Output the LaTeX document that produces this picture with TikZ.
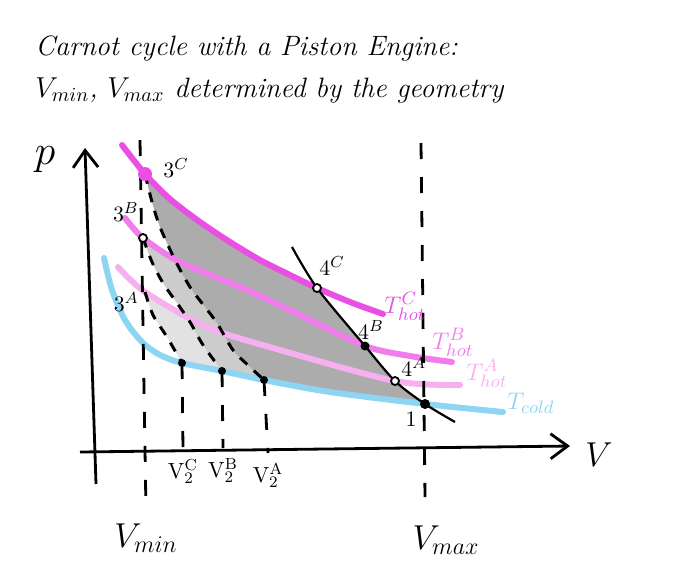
\documentclass[tikz,border=0pt]{standalone}
\usepackage{tikz}
\usetikzlibrary{positioning,arrows.meta,calc}
\definecolor{HotC}{RGB}{234,79,228}
\definecolor{HotB}{RGB}{240,125,235}
\definecolor{HotA}{RGB}{246,176,240}
\definecolor{ColdBlue}{RGB}{141,213,242}
\definecolor{CycleC}{RGB}{172,172,172}
\definecolor{CycleB}{RGB}{204,204,204}
\definecolor{CycleA}{RGB}{226,226,226}
\tikzset{
  axisline/.style={-{Straight Barb[length=3mm,width=4.4mm]},line width=1.4pt},
  isotherm/.style={line width=3pt,line cap=round},
  adiabat/.style={line width=1.1pt},
  vline/.style={line width=1.4pt,dash pattern=on 8pt off 9pt},
  adline/.style={line width=1.5pt,dash pattern=on 5pt off 4.5pt},
  hand/.style={font=\itshape\fontsize{14}{17}\selectfont,anchor=base west,inner sep=0pt},
  lbl/.style={font=\fontsize{11}{13}\selectfont,inner sep=0pt},
  biglbl/.style={font=\fontsize{17}{20}\selectfont,inner sep=0pt},
  templbl/.style={font=\fontsize{13}{15}\selectfont,inner sep=0pt},
  opendot/.style={circle,draw,line width=0.9pt,fill=white,inner sep=0pt,minimum size=4pt},
  fulldot/.style={circle,fill,inner sep=0pt,minimum size=5pt}
}
\begin{document}
\begin{tikzpicture}[x=0.5pt,y=-0.5pt]
  \useasboundingbox (0,0) rectangle (674,585);

  % title
  \node[hand] (title1) at (35,55) {Carnot cycle with a Piston Engine:};
  \node[hand] (title2) at (35,97) {$V_{min}$, $V_{max}$ determined by the geometry};

  % corner points of the cycles
  \coordinate (p3C) at (145,174);
  \coordinate (p3B) at (143,238);
  \coordinate (p3A) at (145,292);
  \coordinate (p4C) at (317,288);
  \coordinate (p4B) at (365,346);
  \coordinate (p4A) at (395,381);
  \coordinate (p1) at (425,404);
  \coordinate (p2C) at (182,363);
  \coordinate (p2B) at (222,371);
  \coordinate (p2A) at (264,380);
  \coordinate (v2C) at (183,449);
  \coordinate (v2B) at (223,448);
  \coordinate (v2A) at (268,453);

  % shaded cycles
  \fill[CycleA] plot[smooth] coordinates {(p3A) (207,327) (280,350) (p4A)}
    -- (p1) -- plot[smooth] coordinates {(p1) (330,392) (p2A) (p2B) (p2C)}
    -- plot[smooth] coordinates {(p2C) (167,337) (153,315) (p3A)} -- cycle;
  \fill[CycleB] plot[smooth] coordinates {(p3B) (180,262) (247,290) (300,315) (p4B)}
    -- plot[smooth] coordinates {(p4B) (p4A) (p1)}
    -- plot[smooth] coordinates {(p1) (330,392) (p2A) (p2B)}
    -- plot[smooth] coordinates {(p2B) (203,345) (190,322) (177,303) (163,283) (152,262) (p3B)} -- cycle;
  \fill[CycleC] plot[smooth] coordinates {(p3C) (170,199) (200,222) (230,242) (260,260) (290,275) (p4C)}
    -- plot[smooth] coordinates {(p4C) (p4B) (p4A) (p1)}
    -- plot[smooth] coordinates {(p1) (330,392) (p2A)}
    -- plot[smooth] coordinates {(p2A) (250,367) (233,350) (217,323) (205,307) (190,287) (175,260) (160,227) (152,202) (p3C)} -- cycle;

  % axes
  \draw[axisline] (96,484) -- (85,148);
  \draw[axisline] (80,452) -- (570,446);
  \node[font=\fontsize{22}{24}\selectfont] (plabel) at (45,160) {$p$};
  \node[font=\fontsize{18}{20}\selectfont] (vlabel) at (599,455) {$V$};

  % isotherms
  \draw[isotherm,ColdBlue] plot[smooth] coordinates {(104,258) (112,290) (125,320) (142,342) (160,355)
    (p2C) (p2B) (p2A) (330,392) (p1) (503,412)};
  \draw[isotherm,HotA] plot[smooth] coordinates {(118,267) (p3A) (207,327) (280,350) (p4A) (460,385)};
  \draw[isotherm,HotB] plot[smooth] coordinates {(125,218) (p3B) (180,262) (247,290) (300,315) (p4B) (410,356) (452,362)};
  \draw[isotherm,HotC] plot[smooth] coordinates {(122,145) (p3C) (170,199) (200,222) (230,242) (260,260) (290,275)
    (p4C) (350,302) (383,314)};

  % Vmin, Vmax and V2
  \draw[vline] (140,140) -- (146,512);
  \draw[vline] (421,143) -- (425,497);
  \foreach \v in {A,B,C}
    \draw[vline] (p2\v) -- (v2\v);

  % adiabats
  \draw[adline] plot[smooth] coordinates {(p3C) (152,202) (160,227) (175,260) (190,287) (205,307) (217,323) (233,350) (250,367) (p2A)};
  \draw[adline] plot[smooth] coordinates {(p3B) (152,262) (163,283) (177,303) (190,322) (203,345) (p2B)};
  \draw[adline] plot[smooth] coordinates {(p3A) (153,315) (167,337) (p2C)};
  \draw[adiabat] plot[smooth] coordinates {(292,247) (p4C) (p4B) (p4A) (p1) (455,422)};

  % points
  \node[circle,fill=HotC,inner sep=0pt,minimum size=7pt] (d3C) at (p3C) {};
  \node[opendot] (d3B) at (p3B) {};
  \node[opendot] (d4C) at (p4C) {};
  \node[fulldot,minimum size=4.5pt] (d4B) at (p4B) {};
  \node[opendot] (d4A) at (p4A) {};
  \node[fulldot] (d1) at (p1) {};
  \foreach \v in {A,B,C}
    \node[fulldot,minimum size=4pt] (d2\v) at (p2\v) {};

  % labels
  \node[lbl,right=9pt of p3C,yshift=3pt] (l3C) {$3^C$};
  \node[lbl,above left=8pt and 2pt of p3B] (l3B) {$3^B$};
  \node[lbl,left=3pt of p3A,yshift=-5pt] (l3A) {$3^A$};
  \node[lbl,above right=6pt and 1pt of p4C] (l4C) {$4^C$};
  \node[lbl,above=3pt of p4B,xshift=3pt] (l4B) {$4^B$};
  \node[lbl,above right=2pt and 3pt of p4A] (l4A) {$4^A$};
  \node[lbl,below left=4pt and 4pt of p1] (l1) {$1$};
  \foreach \v in {A,B,C}
    \node[lbl,below=5pt of v2\v] (lv2\v) {$\mathrm{V}_2^{\mathrm{\v}}$};
  \node[biglbl] (lvmin) at (146,538) {$V_{min}$};
  \node[biglbl] (lvmax) at (446,540) {$V_{max}$};
  \node[templbl,HotC] (ltC) at (405,306) {$T^C_{hot}$};
  \node[templbl,HotB] (ltB) at (453,342) {$T^B_{hot}$};
  \node[templbl,HotA] (ltA) at (487,373) {$T^A_{hot}$};
  \node[templbl,ColdBlue] (ltcold) at (531,403) {$T_{cold}$};
\end{tikzpicture}
\end{document}
